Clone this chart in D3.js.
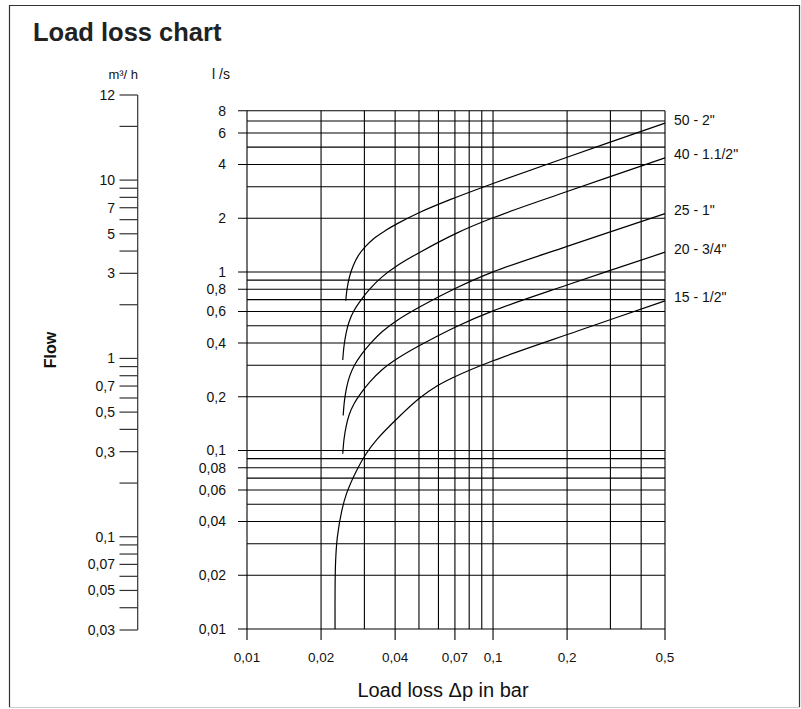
<!DOCTYPE html>
<html>
<head>
<meta charset="utf-8">
<script src="https://cdn.jsdelivr.net/npm/d3@7"></script>
<style>
  body { margin: 0; background: #fff; }
</style>
</head>
<body>
<script>
// grid values (load loss in bar, flow in l/s)
const xGrid = [0.01, 0.02, 0.03, 0.04, 0.05, 0.06, 0.07, 0.08, 0.09, 0.1, 0.2, 0.3, 0.4, 0.5];
const xLabelled = [0.01, 0.02, 0.04, 0.07, 0.1, 0.2, 0.5];
const yGrid = [0.01, 0.02, 0.03, 0.04, 0.05, 0.06, 0.07, 0.08, 0.09,
  0.1, 0.2, 0.3, 0.4, 0.5, 0.6, 0.7, 0.8, 0.9, 1, 2, 3, 4, 5, 6, 7, 8];
const yLabelled = [0.01, 0.02, 0.04, 0.06, 0.08, 0.1, 0.2, 0.4, 0.6, 0.8, 1, 2, 4, 6, 8];

// m3/h side scale (the top tick carries the label "12" in the original)
const flowTicks = [0.03, 0.04, 0.05, 0.06, 0.07, 0.08, 0.09, 0.1, 0.2, 0.3, 0.4, 0.5,
  0.6, 0.7, 0.8, 0.9, 1, 2, 3, 4, 5, 6, 7, 8, 9, 10, 20, 30];
const flowLabelValues = [0.03, 0.05, 0.07, 0.1, 0.3, 0.5, 0.7, 1, 3, 5, 7, 10, 30];
const flowLabelTexts = ["0,03", "0,05", "0,07", "0,1", "0,3", "0,5", "0,7", "1", "3", "5", "7", "10", "12"];

// pipe curves: [load loss bar, flow l/s]
const pipeNames = ['50 - 2"', '40 - 1.1/2"', '25 - 1"', '20 - 3/4"', '15 - 1/2"'];
const pipe50 = [[0.0252, 0.69], [0.0255, 0.8], [0.0261, 0.94], [0.027, 1.08], [0.0283, 1.23],
  [0.0302, 1.38], [0.0328, 1.54], [0.0364, 1.7], [0.041, 1.87], [0.0505, 2.16], [0.0669, 2.54],
  [0.1, 3.13], [0.2, 4.39], [0.5, 6.82]];
const pipe40 = [[0.0245, 0.321], [0.0248, 0.386], [0.0253, 0.456], [0.026, 0.526], [0.0272, 0.606],
  [0.0291, 0.698], [0.0316, 0.804], [0.0354, 0.938], [0.041, 1.09], [0.0505, 1.29], [0.0712, 1.65],
  [0.1, 2.01], [0.2, 2.82], [0.5, 4.35]];
const pipe25 = [[0.0246, 0.157], [0.0249, 0.19], [0.0254, 0.225], [0.0261, 0.259], [0.0273, 0.299],
  [0.0292, 0.345], [0.0317, 0.397], [0.0355, 0.464], [0.041, 0.538], [0.0505, 0.638], [0.0712, 0.815],
  [0.1, 1.0], [0.2, 1.39], [0.5, 2.12]];
const pipe20 = [[0.0245, 0.0959], [0.0248, 0.116], [0.0253, 0.137], [0.026, 0.158], [0.0272, 0.182],
  [0.0291, 0.21], [0.0316, 0.242], [0.0354, 0.283], [0.041, 0.328], [0.0505, 0.388], [0.0712, 0.495],
  [0.1, 0.605], [0.2, 0.845], [0.5, 1.29]];
const pipe15 = [[0.0228, 0.01], [0.0229, 0.0233], [0.0233, 0.0328], [0.0243, 0.0462], [0.0254, 0.0575],
  [0.0279, 0.0773], [0.0305, 0.0959], [0.0337, 0.115], [0.041, 0.152], [0.0502, 0.196],
  [0.0596, 0.231], [0.0696, 0.258], [0.1, 0.318], [0.222, 0.468], [0.5, 0.689]];
const pipes = [pipe50, pipe40, pipe25, pipe20, pipe15];

const width = 801;
const height = 709;
const fmt = (v) => String(v).replace(".", ",");

const svg = d3
  .select("body")
  .append("svg")
  .attr("width", width)
  .attr("height", height)
  .style("font-family", "'Liberation Sans', Arial, sans-serif");

// frame
svg.append("path")
  .attr("d", "M9.5,707 V5.5 H799.5 V707")
  .attr("fill", "none")
  .attr("stroke", "#333")
  .attr("stroke-width", 1.2);
svg.append("line")
  .attr("x1", 9).attr("x2", 800).attr("y1", 707.5).attr("y2", 707.5)
  .attr("stroke", "#ccc");

const x = d3.scaleLog().domain([0.01, 0.5]).range([247, 665]);
const y = d3.scaleLog().domain([0.01, 8]).range([629, 110.7]);
const yFlow = d3.scaleLog().domain([0.03, 30]).range([630, 95]);

const grid = svg.append("g").attr("stroke", "#000").attr("stroke-width", 1.1);

grid.selectAll("line.v")
  .data(xGrid)
  .join("line")
  .attr("class", "v")
  .attr("x1", (d) => x(d))
  .attr("x2", (d) => x(d))
  .attr("y1", y(8))
  .attr("y2", (d) => (xLabelled.includes(d) ? y(0.01) + 11 : y(0.01)));

grid.selectAll("line.h")
  .data(yGrid)
  .join("line")
  .attr("class", "h")
  .attr("x1", (d) => (yLabelled.includes(d) ? x(0.01) - 9 : x(0.01)))
  .attr("x2", x(0.5))
  .attr("y1", (d) => y(d))
  .attr("y2", (d) => y(d));

// tick labels
svg.append("g")
  .attr("font-size", 13.5)
  .attr("text-anchor", "middle")
  .attr("fill", "#111")
  .selectAll("text")
  .data(xLabelled)
  .join("text")
  .attr("x", (d) => x(d))
  .attr("y", 662)
  .text(fmt);

svg.append("g")
  .attr("font-size", 14)
  .attr("text-anchor", "end")
  .attr("fill", "#111")
  .selectAll("text")
  .data(yLabelled)
  .join("text")
  .attr("x", 226)
  .attr("y", (d) => y(d))
  .attr("dy", "0.35em")
  .text(fmt);

// m3/h scale
const flowAxis = svg.append("g").attr("stroke", "#333").attr("stroke-width", 1.2);
flowAxis.append("line")
  .attr("x1", 137.7).attr("x2", 137.7)
  .attr("y1", yFlow(30)).attr("y2", yFlow(0.03));
flowAxis.selectAll("line.t")
  .data(flowTicks)
  .join("line")
  .attr("class", "t")
  .attr("x1", 119.5)
  .attr("x2", 137.7)
  .attr("y1", (d) => yFlow(d))
  .attr("y2", (d) => yFlow(d));

svg.append("g")
  .attr("font-size", 14)
  .attr("text-anchor", "end")
  .attr("fill", "#111")
  .selectAll("text")
  .data(flowLabelValues)
  .join("text")
  .attr("x", 115)
  .attr("y", (d) => yFlow(d))
  .attr("dy", "0.35em")
  .text((d, i) => flowLabelTexts[i]);

// curves
const line = d3.line()
  .x((d) => x(d[0]))
  .y((d) => y(d[1]))
  .curve(d3.curveCatmullRom.alpha(0.5));

svg.append("g")
  .attr("fill", "none")
  .attr("stroke", "#000")
  .attr("stroke-width", 1.2)
  .selectAll("path")
  .data(pipes)
  .join("path")
  .attr("d", line);

svg.append("g")
  .attr("font-size", 14)
  .attr("fill", "#111")
  .selectAll("text")
  .data(pipes)
  .join("text")
  .attr("x", 674)
  .attr("y", (d) => y(d[d.length - 1][1]) + 1.5)
  .text((d, i) => pipeNames[i]);

// titles
svg.append("text")
  .attr("x", 33)
  .attr("y", 41)
  .attr("font-size", 25.5)
  .attr("font-weight", "bold")
  .attr("fill", "#222")
  .text("Load loss chart");

svg.append("text")
  .attr("x", 138)
  .attr("y", 79)
  .attr("font-size", 13)
  .attr("text-anchor", "end")
  .attr("fill", "#111")
  .text("m³/ h");

svg.append("text")
  .attr("x", 230)
  .attr("y", 79)
  .attr("font-size", 14)
  .attr("text-anchor", "end")
  .attr("fill", "#111")
  .text("l /s");

svg.append("text")
  .attr("transform", "translate(56,350) rotate(-90)")
  .attr("font-size", 16)
  .attr("font-weight", "bold")
  .attr("text-anchor", "middle")
  .attr("fill", "#111")
  .text("Flow");

svg.append("text")
  .attr("x", 443)
  .attr("y", 697)
  .attr("font-size", 20)
  .attr("text-anchor", "middle")
  .attr("fill", "#111")
  .text("Load loss Δp in bar");
</script>
</body>
</html>
